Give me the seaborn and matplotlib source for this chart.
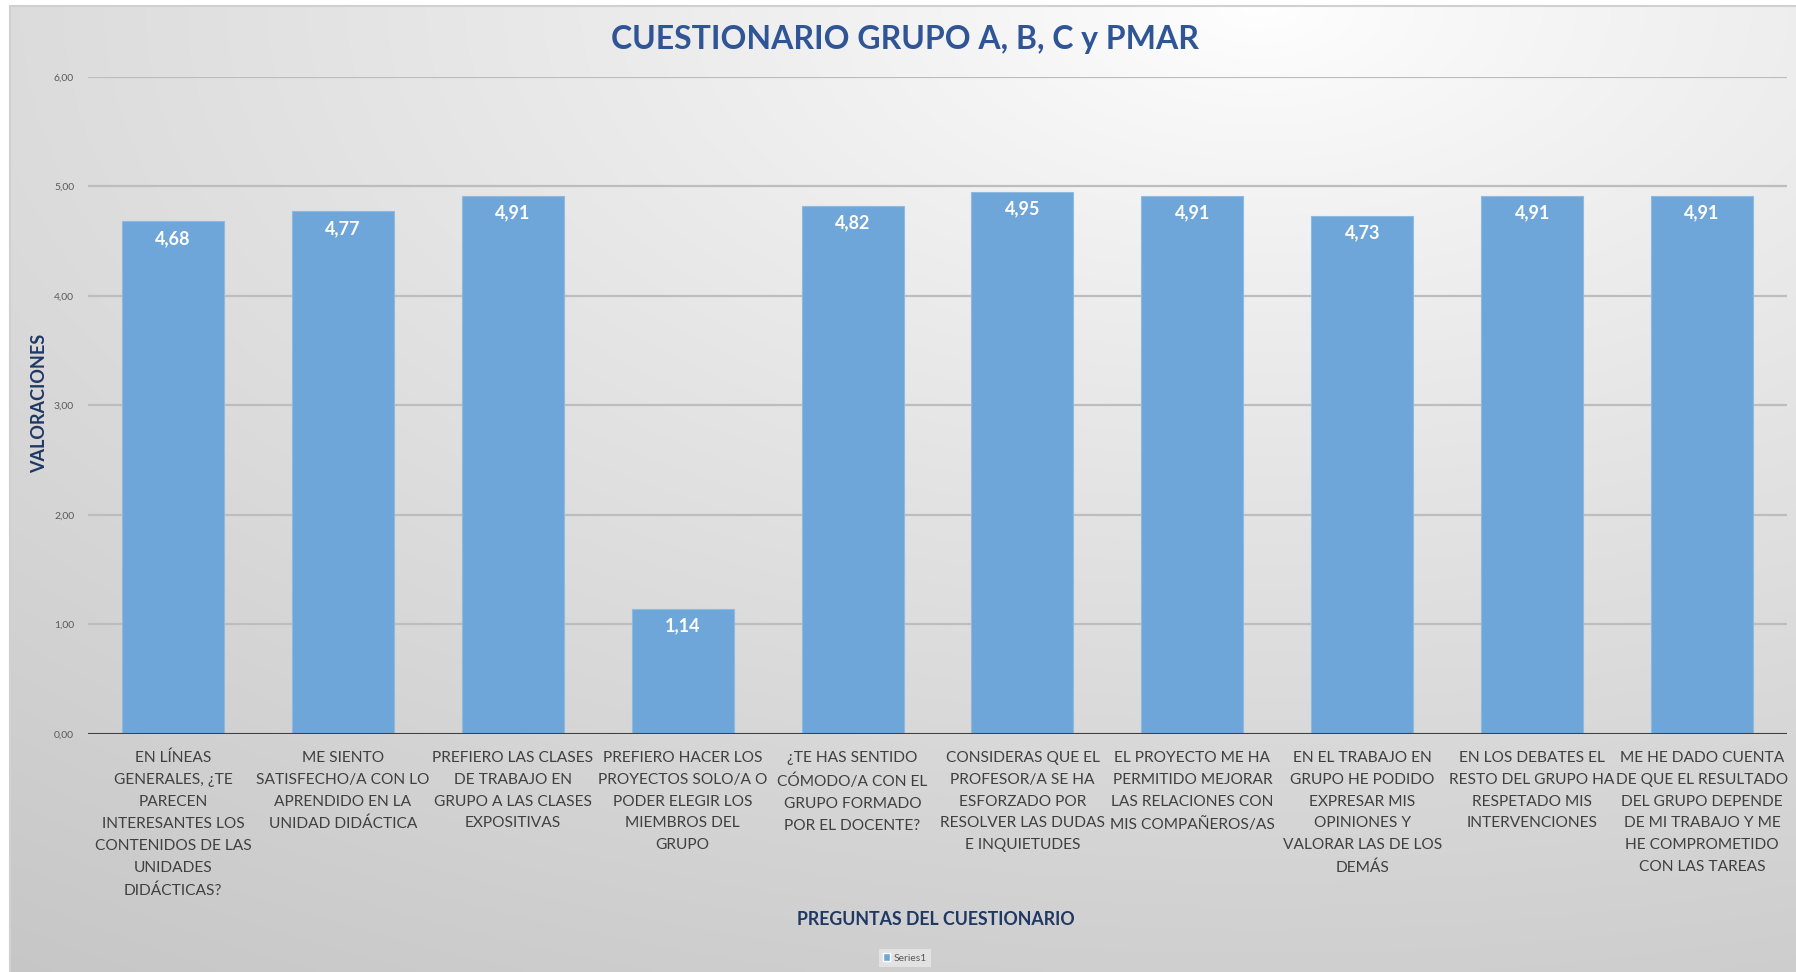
import numpy as np
import pandas as pd
import matplotlib.pyplot as plt
import seaborn as sns
from matplotlib.patches import Rectangle, Patch

sns.set_style("whitegrid")
plt.rcParams['font.family'] = ['Lato', 'DejaVu Sans']

# datos del cuestionario
preguntas = [
    "EN LÍNEAS\nGENERALES, ¿TE\nPARECEN\nINTERESANTES LOS\nCONTENIDOS DE LAS\nUNIDADES\nDIDÁCTICAS?",
    "ME SIENTO\nSATISFECHO/A CON LO\nAPRENDIDO EN LA\nUNIDAD DIDÁCTICA",
    "PREFIERO LAS CLASES\nDE TRABAJO EN\nGRUPO A LAS CLASES\nEXPOSITIVAS",
    "PREFIERO HACER LOS\nPROYECTOS SOLO/A O\nPODER ELEGIR LOS\nMIEMBROS DEL\nGRUPO",
    "¿TE HAS SENTIDO\nCÓMODO/A CON EL\nGRUPO FORMADO\nPOR EL DOCENTE?",
    "CONSIDERAS QUE EL\nPROFESOR/A SE HA\nESFORZADO POR\nRESOLVER LAS DUDAS\nE INQUIETUDES",
    "EL PROYECTO ME HA\nPERMITIDO MEJORAR\nLAS RELACIONES CON\nMIS COMPAÑEROS/AS",
    "EN EL TRABAJO EN\nGRUPO HE PODIDO\nEXPRESAR MIS\nOPINIONES Y\nVALORAR LAS DE LOS\nDEMÁS",
    "EN LOS DEBATES EL\nRESTO DEL GRUPO HA\nRESPETADO MIS\nINTERVENCIONES",
    "ME HE DADO CUENTA\nDE QUE EL RESULTADO\nDEL GRUPO DEPENDE\nDE MI TRABAJO Y ME\nHE COMPROMETIDO\nCON LAS TAREAS",
]
valoraciones = [4.68, 4.77, 4.91, 1.14, 4.82, 4.95, 4.91, 4.73, 4.91, 4.91]
y_ticks = [0, 1, 2, 3, 4, 5, 6]
y_tick_labels = ["0,00", "1,00", "2,00", "3,00", "4,00", "5,00", "6,00"]

df = pd.DataFrame({'pregunta': preguntas, 'valor': valoraciones})

W, H = 1796, 972
fig = plt.figure(figsize=(W / 100, H / 100), dpi=100)
fig.patch.set_facecolor('white')

# fondo con degradado radial (estilo Excel)
bg = fig.add_axes([0, 0, 1, 1], zorder=-5)
bg.set_xlim(0, 1)
bg.set_ylim(0, 1)
bg.axis('off')
x0, y1 = 10 / W, 1 - 6 / H
gx, gy = np.meshgrid(np.linspace(0, 1, 400), np.linspace(0, 1, 250))
d = np.sqrt((gx - 0.70) ** 2 + (gy - 0.0) ** 2) / 1.21
grad = 1.0 - 0.22 * np.clip(d, 0, 1) ** 0.85
bg.imshow(np.dstack([grad, grad, grad]), extent=[x0, 1, 0, y1], origin='upper',
          aspect='auto', interpolation='bilinear')
bg.add_patch(Rectangle((x0, -0.01), 1.01 - x0, y1 + 0.01, fill=False,
                       edgecolor='#D0D0D0', lw=1.5))

ax = fig.add_axes([88 / W, 1 - 734 / H, (1787 - 88) / W, (734 - 76.7) / H])
ax.set_facecolor('none')
sns.barplot(data=df, x='pregunta', y='valor', color='#6FA6D9', width=0.6,
            edgecolor='#8DB9E3', linewidth=0.8, saturation=1, ax=ax,
            zorder=3)

ax.set_ylim(0, 6)
ax.set_xlim(-0.5, len(preguntas) - 0.5)
ax.set_yticks(y_ticks)
ax.set_yticklabels(y_tick_labels, fontsize=7.5, color='#595959')
ax.grid(axis='y', color='#BDBDBD', lw=1.6, zorder=0)
ax.grid(axis='x', visible=False)
ax.axhline(0, color='#404040', lw=2.2, zorder=4)
for s in ax.spines.values():
    s.set_visible(False)
ax.tick_params(axis='y', length=0, pad=10)
ax.tick_params(axis='x', length=0, pad=12)
for lab in ax.get_xticklabels():
    lab.set_fontsize(11.2)
    lab.set_color('#404040')
    lab.set_linespacing(1.72)
    lab.set_verticalalignment('top')

for i, v in enumerate(valoraciones):
    ax.annotate(f"{v:.2f}".replace('.', ','), (i, v), xytext=(0, -17),
                textcoords='offset pixels', ha='center', va='center',
                color='white', fontsize=13, fontweight='bold', zorder=5)

ax.set_xlabel('')
ax.set_ylabel('')
fig.text(905 / W, 1 - 39 / H, 'CUESTIONARIO GRUPO A, B, C y PMAR', ha='center',
         va='center', fontsize=23, fontweight='bold', color='#2F5597')
fig.text(40 / W, 1 - 403 / H, 'VALORACIONES', ha='center', va='center',
         rotation=90, fontsize=13, fontweight='bold', color='#1F3864')
fig.text(936 / W, 1 - 919 / H, 'PREGUNTAS DEL CUESTIONARIO', ha='center',
         va='center', fontsize=12.8, fontweight='bold', color='#1F3864')

leg = fig.legend(handles=[Patch(facecolor='#6FA6D9', label='Series1')],
                 loc='center', bbox_to_anchor=(905 / W, 1 - 958 / H),
                 fontsize=7.5, frameon=True, handlelength=0.7, handleheight=0.7,
                 handletextpad=0.3, borderpad=0.4, fancybox=False)
leg.get_frame().set_facecolor('#E8E8E8')
leg.get_frame().set_edgecolor('none')
for t in leg.get_texts():
    t.set_color('#595959')

plt.savefig('out.png', dpi=100)
plt.close()
